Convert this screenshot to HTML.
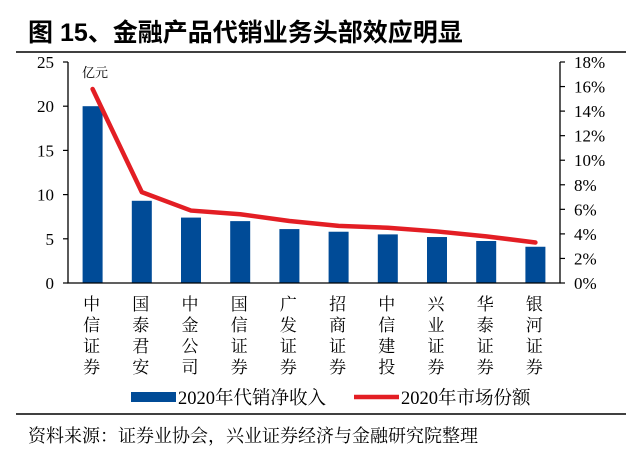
<!DOCTYPE html>
<html><head><meta charset="utf-8"><style>
body{margin:0;background:#fff;}
svg{display:block;font-family:"Liberation Serif","Noto Serif CJK SC",serif;}
</style></head><body>
<svg id="c" width="640" height="459" viewBox="0 0 640 459">
<text x="28" y="41" font-family="Liberation Sans,Noto Sans CJK SC,sans-serif" font-weight="bold" font-size="25" fill="#000">图 15、金融产品代销业务头部效应明显</text>
<line x1="16" y1="52" x2="626" y2="52" stroke="#000" stroke-width="1.5"/>
<line x1="16" y1="414" x2="626" y2="414" stroke="#000" stroke-width="1.5"/>
<text x="28" y="442" font-size="18" font-family="Liberation Serif,Noto Serif CJK SC,serif" fill="#000">资料来源：证券业协会，兴业证券经济与金融研究院整理</text>
<text x="82" y="77" font-size="13">亿元</text>
<g id="plot"></g>
</svg>
<script>
const categories=["中信证券","国泰君安","中金公司","国信证券","广发证券","招商证券","中信建投","兴业证券","华泰证券","银河证券"];
const income=[20,9.3,7.4,7.0,6.1,5.8,5.5,5.2,4.75,4.1];
const share=[15.8,7.4,5.9,5.6,5.05,4.65,4.5,4.2,3.8,3.3];
const leftTicks=[0,5,10,15,20,25];
const rightTicks=[0,2,4,6,8,10,12,14,16,18];
const NS="http://www.w3.org/2000/svg";
const g=document.getElementById('plot');
const X0=68,X1=560,Y0=283,Y1=62;
const step=(X1-X0)/categories.length;
const xc=i=>X0+step*(i+0.5);
const yL=v=>Y0-(v/25)*(Y0-Y1);
const yR=v=>Y0-(v/18)*(Y0-Y1);
function mk(t,a){const e=document.createElementNS(NS,t);for(const k in a)e.setAttribute(k,a[k]);g.appendChild(e);return e;}
income.forEach((v,i)=>{
const r=mk('rect',{x:xc(i)-10,y:yL(v),width:20,height:Y0-yL(v),fill:'#004b97'});


});
const ax=mk('path',{d:`M${X0} ${Y1}V${Y0}H${X1}V${Y1}`,stroke:'#000','stroke-width':1.3,fill:'none'});


leftTicks.forEach(v=>{
mk('line',{x1:X0-5,x2:X0,y1:yL(v),y2:yL(v),stroke:'#000','stroke-width':1.2});
const t=mk('text',{x:X0-14,y:yL(v)+6,'text-anchor':'end','font-size':17});
t.textContent=v;


});
rightTicks.forEach(v=>{
mk('line',{x1:X1,x2:X1+5,y1:yR(v),y2:yR(v),stroke:'#000','stroke-width':1.2});
const t=mk('text',{x:X1+14,y:yR(v)+6,'font-size':17});
t.textContent=v+'%';


});
const ln=mk('polyline',{points:share.map((v,i)=>xc(i)+','+yR(v)).join(' '),fill:'none',stroke:'#e31e24','stroke-width':4.5,'stroke-linejoin':'round','stroke-linecap':'round'});


categories.forEach((c,i)=>{
const t=mk('text',{x:xc(i)-1,y:310,'font-size':17,'text-anchor':'middle','font-family':'Noto Serif CJK SC,serif'});


[...c].forEach((ch,k)=>{
const s=document.createElementNS(NS,'tspan');
s.setAttribute('x',xc(i)-1);
s.setAttribute('y',310+k*21);
s.textContent=ch;
t.appendChild(s);
});
});
const l1=mk('rect',{x:131,y:392,width:45,height:10,fill:'#004b97'});


const t1=mk('text',{x:178,y:404,'font-size':18.5});t1.textContent='2020年代销净收入';


const l2=mk('line',{x1:354,x2:399,y1:397,y2:397,stroke:'#e31e24','stroke-width':4.5});


const t2=mk('text',{x:401,y:404,'font-size':18.5});t2.textContent='2020年市场份额';


</script>
</body></html>
